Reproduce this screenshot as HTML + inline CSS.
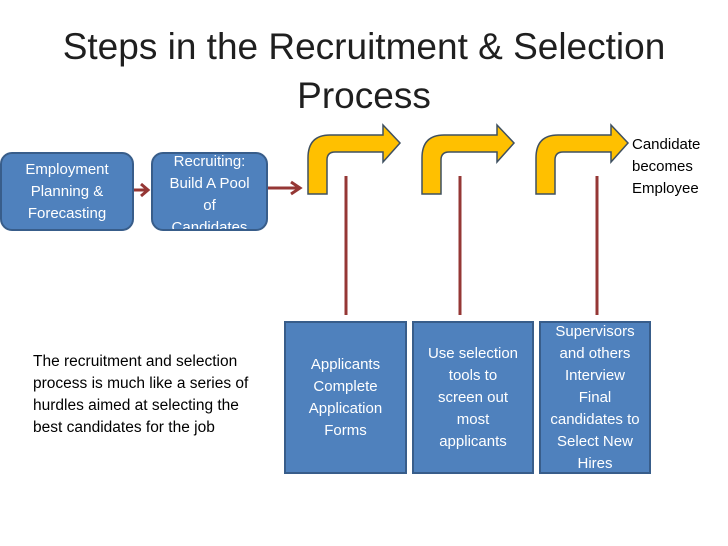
<!DOCTYPE html>
<html><head><style>
body{margin:0;width:728px;height:546px;background:#fff;position:relative;overflow:hidden;font-family:"Liberation Sans",sans-serif}
.t{position:absolute;text-align:center;color:#fff;font-size:15px;line-height:22px}
.box{position:absolute;background:#4f81bd;border:2px solid #385d8a;box-sizing:border-box;display:flex;align-items:center;justify-content:center;overflow:hidden}
.r{border-radius:12px}
</style></head><body>
<div style="position:absolute;left:0;width:728px;top:22px;text-align:center;font-size:37px;line-height:49px;color:#1f1f1f">Steps in the Recruitment &amp; Selection<br>Process</div>
<div class="box r" style="left:0;top:152px;width:134px;height:79px"><div class="t" style="position:static">Employment<br>Planning &amp;<br>Forecasting</div></div>
<div class="box r" style="left:151px;top:152px;width:117px;height:79px"><div class="t" style="position:static;margin-top:6px">Recruiting:<br>Build A Pool<br>of<br>Candidates</div></div>
<svg width="728" height="546" style="position:absolute;left:0;top:0">
<g stroke="#953735" stroke-width="3" fill="none">
<line x1="134" y1="190" x2="148" y2="190"/><polyline points="141,184 148,190 141,196"/>
<line x1="268" y1="188" x2="300" y2="188"/><polyline points="291,182 300,188 291,194"/>
<line x1="346" y1="176" x2="346" y2="315"/>
<line x1="460" y1="176" x2="460" y2="315"/>
<line x1="597" y1="176" x2="597" y2="315"/>
</g>
<g fill="#ffc000" stroke="#3f5060" stroke-width="1.5">
<path id="ba" d="M308,194 L308,158 Q308,135 330,135 L383,135 L383,125 L400,143 L383,162 L383,152 L335,152 Q327,152 327,160 L327,194 Z"/>
<use href="#ba" x="114"/>
<use href="#ba" x="228"/>
</g>
</svg>
<div style="position:absolute;left:632px;top:134px;font-size:15px;line-height:22px;color:#000">Candidate<br>becomes<br>Employee</div>
<div style="position:absolute;left:33px;top:351px;font-size:15.5px;line-height:22px;color:#000">The recruitment and selection<br>process is much like a series of<br>hurdles aimed at selecting the<br>best candidates for the job</div>
<div class="box" style="left:284px;top:321px;width:123px;height:153px"><div class="t" style="position:static">Applicants<br>Complete<br>Application<br>Forms</div></div>
<div class="box" style="left:412px;top:321px;width:122px;height:153px"><div class="t" style="position:static">Use selection<br>tools to<br>screen out<br>most<br>applicants</div></div>
<div class="box" style="left:539px;top:321px;width:112px;height:153px"><div class="t" style="position:static;white-space:nowrap">Supervisors<br>and others<br>Interview<br>Final<br>candidates to<br>Select New<br>Hires</div></div>
</body></html>
